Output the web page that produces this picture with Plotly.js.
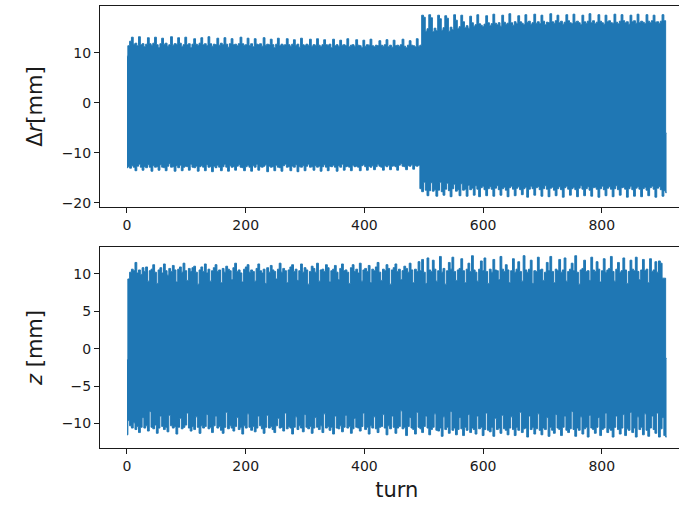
<!DOCTYPE html>
<html>
<head>
<meta charset="utf-8">
<script src="https://cdn.plot.ly/plotly-3.0.1.min.js"></script>
<style>
html,body{margin:0;padding:0;overflow:hidden;background:#fff;}
#chart{width:700px;height:507px;}
</style>
</head>
<body>
<div id="chart"></div>
<script>
// Envelopes of the turn-by-turn signals, one sample every 3 turns (turn 0 .. 909)
const turnStart = 0;
const turnStep = 3;

// Δr upper envelope [mm]
const drUpper = [
 9.3, 11.4, 12.3, 13.1, 11.7, 11.9, 11.4, 13.2, 11.6, 11.8,
 11.2, 11.7, 13.0, 11.8, 11.5, 11.9, 13.1, 11.6, 11.0, 11.8,
 12.9, 11.7, 11.9, 11.3, 11.6, 13.2, 11.5, 11.8, 11.7, 13.0,
 11.9, 11.2, 11.6, 13.1, 11.6, 11.8, 11.0, 11.7, 12.8, 11.7,
 11.5, 11.9, 13.0, 11.6, 11.8, 11.4, 13.2, 11.8, 11.3, 11.7,
 11.6, 12.9, 11.5, 11.9, 11.6, 13.0, 11.7, 11.1, 11.8, 12.8,
 11.6, 11.7, 11.4, 11.8, 13.1, 11.8, 11.5, 11.6, 12.9, 11.4,
 11.8, 11.2, 12.8, 11.7, 11.6, 11.8, 11.3, 13.0, 11.5, 11.7,
 11.6, 12.7, 11.6, 11.0, 11.7, 12.9, 11.4, 11.7, 11.5, 11.6,
 12.8, 11.6, 11.3, 11.7, 12.6, 11.5, 11.7, 11.1, 12.9, 11.6,
 11.4, 11.7, 11.5, 12.7, 11.3, 11.6, 11.5, 12.8, 11.5, 11.2,
 11.6, 12.6, 11.6, 11.5, 11.7, 11.0, 12.7, 11.4, 11.6, 11.3,
 12.5, 11.5, 11.6, 11.4, 12.8, 11.2, 11.5, 11.6, 11.3, 12.6,
 11.5, 11.4, 11.0, 12.5, 11.3, 11.6, 11.5, 12.7, 11.4, 11.2,
 11.5, 11.4, 12.4, 11.5, 11.3, 11.6, 12.6, 11.2, 11.5, 11.1,
 12.5, 11.4, 11.5, 11.3, 11.6, 12.7, 11.3, 11.0, 11.5, 12.4,
 11.5, 11.4, 11.2, 12.8, 11.3, 11.5, 17.5, 17.1, 14.3, 14.8,
 17.6, 17.0, 14.2, 14.9, 14.4, 17.5, 16.8, 14.5, 15.0, 17.4,
 16.9, 14.3, 15.1, 14.6, 17.6, 16.5, 14.8, 15.2, 17.5, 16.2,
 15.0, 15.4, 14.9, 17.3, 16.0, 15.3, 15.6, 17.6, 15.8, 15.5,
 15.2, 15.7, 17.4, 16.0, 15.4, 15.8, 17.7, 15.9, 15.6, 16.0,
 15.3, 17.5, 16.1, 15.7, 15.9, 17.8, 16.0, 15.5, 16.2, 15.8,
 17.4, 16.2, 15.9, 15.6, 17.6, 16.1, 16.3, 15.7, 16.0, 17.7,
 15.9, 16.2, 15.8, 17.5, 16.3, 15.6, 16.1, 16.0, 17.8, 16.2,
 15.9, 16.4, 17.5, 16.0, 16.3, 15.7, 16.1, 17.6, 16.4, 16.0,
 15.8, 17.7, 16.1, 16.3, 16.0, 15.6, 17.5, 16.2, 15.9, 16.3,
 17.8, 16.0, 16.4, 15.8, 16.1, 17.6, 16.3, 16.0, 15.7, 17.5,
 16.2, 16.4, 16.0, 15.9, 17.7, 16.1, 15.8, 16.3, 17.6, 16.4,
 16.0, 16.2, 15.7, 17.5, 16.2, 16.4, 15.9, 17.7, 16.0, 16.3,
 16.1, 15.8, 17.6, 16.3, 16.0, 16.4, 17.5, 16.1, 16.2, 15.9,
 16.3, 17.6, 16.4, -6.1
];

// Δr lower envelope [mm]
const drLower = [
 -13.0, -12.8, -13.1, -12.6, -12.9, -13.6, -12.7, -12.3, -12.9, -13.5,
 -12.8, -13.0, -12.4, -12.9, -13.7, -12.6, -12.9, -12.8, -13.5, -12.4,
 -12.9, -13.0, -13.6, -12.7, -12.2, -12.9, -12.8, -13.7, -12.6, -13.0,
 -12.5, -13.6, -12.9, -12.7, -12.8, -13.5, -12.3, -12.9, -13.0, -12.7,
 -13.7, -12.8, -12.6, -12.9, -13.6, -12.4, -12.9, -12.8, -13.8, -12.7,
 -13.0, -12.5, -12.9, -13.6, -12.8, -12.3, -12.9, -13.7, -12.6, -12.9,
 -12.8, -13.5, -12.7, -12.4, -12.9, -13.0, -13.6, -12.8, -12.5, -12.9,
 -13.7, -12.6, -12.9, -12.3, -13.5, -12.8, -12.9, -12.7, -12.4, -13.8,
 -12.7, -12.9, -12.8, -13.6, -12.5, -12.9, -13.0, -13.7, -12.6, -12.3,
 -12.9, -12.8, -13.6, -12.7, -12.9, -12.4, -13.8, -12.8, -12.9, -12.6,
 -13.6, -12.7, -12.3, -12.9, -12.8, -13.5, -12.6, -12.9, -12.7, -13.7,
 -12.8, -12.4, -12.9, -13.6, -12.7, -12.8, -12.5, -12.9, -13.7, -12.6,
 -12.9, -12.3, -13.5, -12.8, -12.7, -12.9, -13.6, -12.5, -12.8, -12.7,
 -12.9, -13.6, -12.6, -12.4, -12.8, -13.5, -12.7, -12.9, -12.6, -13.4,
 -12.8, -12.3, -12.7, -12.9, -13.5, -12.6, -12.8, -12.5, -13.4, -12.7,
 -12.6, -12.8, -13.5, -12.5, -12.2, -12.7, -12.8, -13.4, -12.6, -12.7,
 -12.4, -13.3, -12.6, -12.7, -12.5, -17.2, -17.8, -15.9, -17.5, -18.6,
 -17.6, -16.0, -17.7, -17.4, -18.7, -17.5, -15.9, -17.8, -18.5, -17.3,
 -16.1, -17.6, -18.8, -17.2, -16.3, -17.7, -17.4, -18.6, -16.2, -17.5,
 -17.3, -18.7, -16.5, -17.4, -17.1, -18.5, -16.6, -17.3, -18.8, -17.0,
 -16.7, -17.4, -18.6, -17.2, -16.8, -17.3, -18.7, -17.1, -16.6, -17.4,
 -18.5, -17.2, -16.9, -17.5, -18.8, -17.0, -16.7, -17.3, -18.6, -17.1,
 -16.8, -17.4, -18.4, -17.2, -16.9, -18.9, -17.3, -16.7, -17.2, -18.5,
 -17.0, -16.8, -17.4, -18.7, -17.2, -16.6, -17.3, -18.8, -17.1, -16.9,
 -17.5, -18.6, -17.2, -16.8, -17.4, -18.9, -17.0, -16.7, -17.3, -18.5,
 -17.2, -16.9, -17.4, -18.8, -17.1, -16.6, -17.3, -18.6, -17.2, -16.8,
 -17.5, -18.7, -17.0, -16.9, -17.3, -18.9, -17.2, -16.7, -17.4, -18.6,
 -17.1, -16.8, -17.3, -18.8, -17.2, -16.6, -17.4, -18.5, -17.0, -16.9,
 -17.3, -18.9, -17.2, -16.7, -17.4, -18.7, -17.1, -16.8, -17.3, -18.8,
 -17.2, -16.9, -17.5, -18.6, -17.0, -16.7, -17.3, -18.9, -17.1, -16.8,
 -17.4, -18.7, -17.6, -18.0
];

// z upper envelope [mm]
const zUpper = [
 -1.5, 9.3, 10.2, 10.6, 10.4, 11.5, 10.1, 10.5, 9.9, 10.8,
 10.3, 10.9, 9.0, 10.4, 10.6, 11.2, 10.2, 8.7, 10.5, 10.8,
 10.1, 11.3, 10.4, 9.8, 10.7, 10.3, 11.1, 10.5, 8.9, 10.6,
 10.9, 10.2, 11.4, 10.4, 9.1, 10.7, 10.3, 10.8, 11.0, 10.2,
 8.6, 10.5, 10.9, 10.3, 11.3, 10.1, 10.6, 9.0, 10.4, 10.8,
 11.2, 10.3, 10.5, 8.8, 10.7, 10.2, 11.0, 10.6, 10.4, 9.2,
 10.8, 11.4, 10.3, 10.5, 10.1, 8.9, 10.6, 10.9, 11.2, 10.2,
 10.5, 10.3, 9.0, 10.7, 11.3, 10.4, 10.1, 10.6, 8.7, 10.8,
 10.2, 11.1, 10.5, 10.3, 9.3, 10.6, 11.4, 10.2, 10.7, 10.4,
 8.8, 10.5, 10.9, 11.2, 10.3, 10.6, 9.1, 10.4, 11.3, 10.2,
 10.8, 10.5, 8.6, 10.3, 11.0, 10.7, 10.2, 11.4, 9.0, 10.5,
 10.6, 10.3, 11.2, 10.8, 8.9, 10.4, 10.6, 11.1, 10.2, 9.2,
 10.7, 11.3, 10.4, 10.5, 10.2, 8.7, 10.8, 11.2, 10.3, 10.6,
 10.1, 11.4, 9.0, 10.5, 10.7, 10.3, 11.1, 8.8, 10.6, 10.4,
 10.9, 11.5, 10.2, 9.1, 10.6, 10.4, 11.2, 10.7, 8.6, 10.5,
 10.8, 11.3, 10.3, 10.6, 9.2, 10.4, 11.0, 10.7, 10.2, 11.4,
 10.5, 8.8, 10.6, 10.3, 11.6, 10.4, 11.9, 10.2, 8.7, 12.1,
 10.5, 10.3, 11.8, 10.6, 9.0, 10.4, 12.3, 10.2, 10.7, 8.6,
 10.4, 11.5, 10.6, 12.2, 10.3, 9.1, 10.5, 10.7, 12.0, 10.4,
 8.8, 10.6, 11.4, 10.3, 12.4, 10.5, 10.2, 9.0, 10.6, 11.7,
 10.4, 12.1, 10.3, 8.7, 10.6, 10.2, 11.9, 10.5, 10.4, 9.2,
 12.3, 10.6, 10.3, 11.2, 10.5, 8.8, 10.4, 12.0, 10.2, 10.6,
 11.6, 10.3, 9.0, 12.4, 10.5, 10.2, 10.6, 11.8, 8.7, 10.4,
 10.3, 12.2, 10.5, 10.6, 9.1, 10.2, 11.5, 10.4, 12.3, 10.3,
 8.8, 10.6, 10.4, 11.9, 10.2, 10.5, 12.1, 9.0, 10.3, 10.6,
 11.4, 10.4, 12.4, 10.2, 8.6, 10.5, 10.7, 11.8, 10.3, 10.4,
 9.1, 12.2, 10.5, 10.3, 11.6, 10.6, 8.9, 10.4, 12.0, 10.2,
 10.5, 10.7, 12.3, 10.3, 9.0, 10.6, 11.5, 10.2, 10.4, 12.1,
 10.5, 8.7, 10.3, 11.8, 10.6, 10.4, 12.2, 10.3, 9.2, 10.5,
 11.9, 10.4, 10.6, 8.8, 12.0, 10.3, 10.5, 11.6, 10.2, 11.7,
 11.4, 9.4, 9.4, -1.3
];

// z lower envelope [mm]
const zLower = [
 -11.5, -9.6, -10.3, -10.6, -9.9, -10.8, -10.4, -11.2, -10.5, -9.2,
 -10.6, -10.3, -11.0, -8.4, -10.5, -10.7, -10.2, -11.3, -10.6, -9.0,
 -10.4, -10.8, -10.5, -11.1, -8.9, -10.3, -10.6, -10.4, -11.4, -10.5,
 -9.3, -10.7, -10.5, -10.2, -8.6, -10.6, -11.0, -10.4, -10.8, -9.1,
 -10.5, -11.3, -10.3, -10.6, -10.4, -8.8, -10.7, -10.5, -11.2, -10.3,
 -9.0, -10.6, -10.4, -10.9, -11.3, -10.5, -8.5, -10.7, -10.3, -10.6,
 -11.0, -10.4, -9.2, -10.8, -10.5, -11.4, -10.3, -10.6, -8.7, -10.5,
 -10.9, -10.4, -11.1, -10.6, -9.0, -10.3, -10.7, -11.3, -10.5, -8.9,
 -10.6, -10.4, -10.8, -11.2, -10.3, -9.3, -10.6, -10.5, -11.0, -8.6,
 -10.7, -10.4, -10.6, -11.4, -10.5, -9.1, -10.8, -10.3, -10.6, -11.1,
 -8.8, -10.5, -10.7, -10.4, -11.3, -10.6, -9.2, -10.5, -10.8, -10.3,
 -11.2, -8.7, -10.6, -10.4, -10.9, -10.5, -11.4, -9.0, -10.6, -10.7,
 -10.3, -11.1, -10.5, -8.9, -10.6, -10.4, -11.3, -10.7, -9.3, -10.5,
 -10.6, -11.0, -10.4, -8.6, -10.8, -10.5, -11.4, -10.3, -10.6, -9.1,
 -10.7, -11.2, -10.5, -10.4, -8.8, -10.6, -11.5, -10.3, -10.7, -9.0,
 -10.5, -11.3, -10.6, -10.4, -8.3, -10.7, -10.5, -11.6, -10.4, -9.2,
 -10.6, -10.8, -11.4, -8.5, -10.5, -10.7, -11.2, -10.4, -9.0, -10.6,
 -11.5, -10.8, -10.5, -8.7, -10.9, -11.0, -10.6, -11.7, -9.1, -10.8,
 -10.5, -11.3, -8.4, -10.9, -10.6, -11.5, -10.8, -9.2, -10.7, -11.6,
 -10.5, -10.9, -8.8, -11.2, -10.6, -10.8, -11.4, -9.0, -10.7, -10.5,
 -11.6, -10.8, -8.6, -10.9, -11.1, -10.5, -11.7, -9.3, -10.8, -10.6,
 -11.3, -8.9, -10.7, -10.9, -11.5, -10.6, -9.1, -10.8, -11.6, -10.5,
 -10.9, -8.5, -11.2, -10.7, -10.6, -11.8, -9.0, -10.8, -10.5, -11.4,
 -10.7, -8.7, -10.9, -11.5, -10.6, -10.8, -9.2, -11.7, -10.5, -10.9,
 -11.3, -8.8, -10.6, -10.8, -11.6, -10.5, -9.0, -10.9, -11.2, -10.7,
 -8.4, -10.8, -11.7, -10.6, -10.9, -9.1, -11.4, -10.7, -10.5, -11.8,
 -8.9, -10.6, -10.8, -11.3, -10.5, -9.2, -11.6, -10.8, -10.6, -8.6,
 -11.2, -10.7, -10.9, -11.8, -10.5, -9.0, -10.8, -11.4, -10.6, -8.8,
 -11.6, -10.7, -10.9, -8.5, -11.2, -10.6, -11.8, -9.1, -10.8, -10.5,
 -11.5, -8.7, -10.9, -11.7, -10.6, -9.0, -10.8, -11.3, -8.6, -11.8,
 -10.7, -9.2, -11.6, -11.8
];

const xTicks = [0, 200, 400, 600, 800];
const drTicks = [-20, -10, 0, 10];
const zTicks = [-10, -5, 0, 5, 10];

const C0 = '#1f77b4';
const ink = '#1a1a1a';

function band(lo, hi, xa, ya) {
  return [
    {x0: turnStart, dx: turnStep, y: lo, xaxis: xa, yaxis: ya, type: 'scatter', mode: 'lines',
     line: {color: C0, width: 1, shape: 'hvh'}, hoverinfo: 'skip', showlegend: false},
    {x0: turnStart, dx: turnStep, y: hi, xaxis: xa, yaxis: ya, type: 'scatter', mode: 'lines',
     fill: 'tonexty', fillcolor: C0, line: {color: C0, width: 1, shape: 'hvh'}, hoverinfo: 'skip', showlegend: false}
  ];
}

const data = band(drLower, drUpper, 'x', 'y').concat(band(zLower, zUpper, 'x2', 'y2'));

const W = 700, H = 507;
const font = {family: 'DejaVu Sans, sans-serif', size: 14, color: ink};

function xaxis(anchor, withTitle) {
  const a = {
    domain: [100 / W, 693.5 / W], anchor: anchor, range: [-45.45, 954.45],
    tickmode: 'array', tickvals: xTicks, ticktext: xTicks.map(String),
    ticks: 'outside', ticklen: 5, tickwidth: 1, tickcolor: ink,
    showline: true, mirror: true, linecolor: ink, linewidth: 1,
    showgrid: false, zeroline: false, tickfont: font
  };
  if (withTitle) a.title = {text: 'turn', font: {family: font.family, size: 21, color: ink}, standoff: 9};
  return a;
}
function yaxis(anchor, dom, range, ticks, title) {
  return {
    domain: dom, anchor: anchor, range: range,
    tickmode: 'array', tickvals: ticks, ticktext: ticks.map(v => v < 0 ? '\u2212' + Math.abs(v) : String(v)),
    ticks: 'outside', ticklen: 5, tickwidth: 1, tickcolor: ink,
    showline: true, mirror: true, linecolor: ink, linewidth: 1,
    showgrid: false, zeroline: false, tickfont: font,
    title: {text: title, font: {family: font.family, size: 21, color: ink}, standoff: 13}
  };
}

const layout = {
  width: W, height: H,
  margin: {l: 0, r: 0, t: 0, b: 0},
  paper_bgcolor: '#fff', plot_bgcolor: '#fff',
  showlegend: false,
  xaxis: xaxis('y', false),
  yaxis: yaxis('x', [(H - 207) / H, (H - 6) / H], [-20.86, 19.34], drTicks, '\u0394<i>r</i>[mm]'),
  xaxis2: xaxis('y2', true),
  yaxis2: yaxis('x2', [(H - 448.3) / H, (H - 246.7) / H], [-13.3, 13.6], zTicks, '<i>z</i> [mm]')
};

Plotly.newPlot('chart', data, layout, {staticPlot: true, displayModeBar: false});
</script>
</body>
</html>
